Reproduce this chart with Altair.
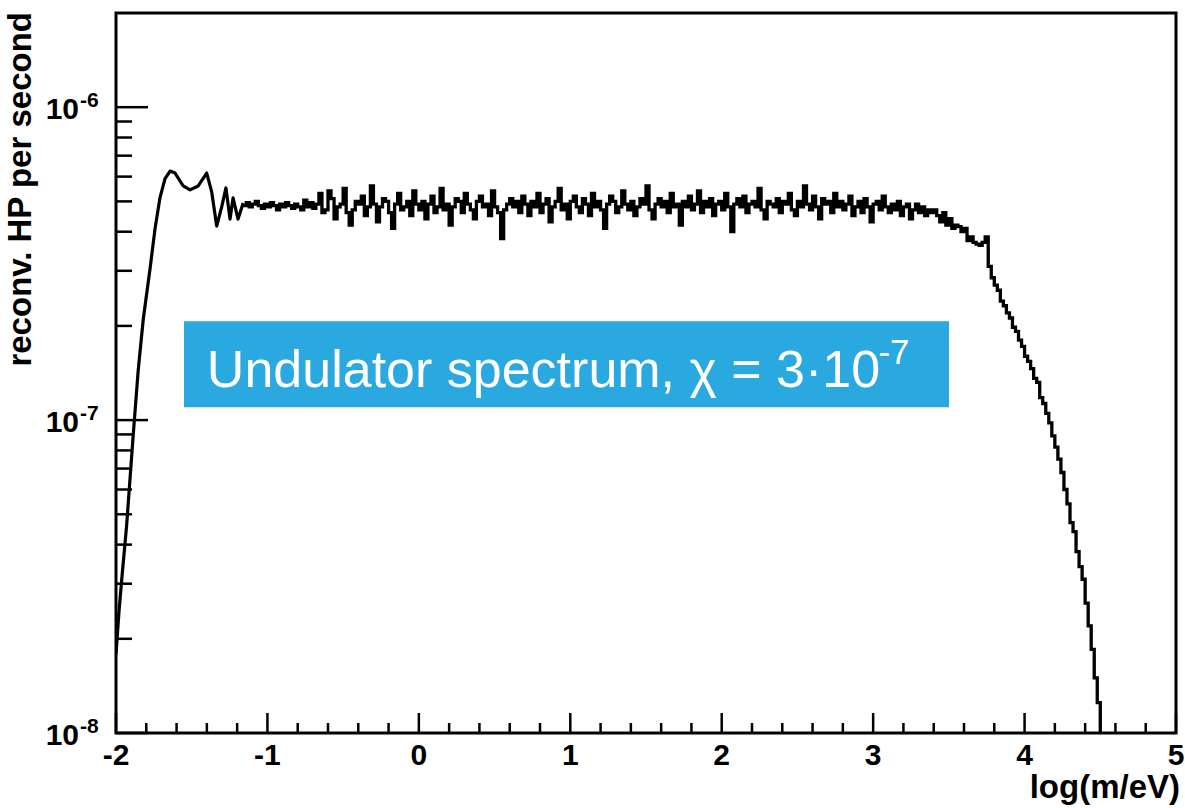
import altair as alt
import pandas as pd

# ---------------- data (rate in units of 1e-7 HP per second) ----------------
# smooth low-mass edge with the first oscillations, read point by point
smooth_log_m = [-2.0, -1.98, -1.962, -1.93, -1.886, -1.853, -1.82, -1.775, -1.742,
                -1.709, -1.676, -1.643, -1.61, -1.556, -1.511, -1.457, -1.401,
                -1.368, -1.335, -1.302, -1.274, -1.247, -1.227, -1.194, -1.16]
smooth_rate = [0.179, 0.245, 0.31, 0.46, 0.9, 1.45, 2.1, 3.05, 4.1,
               5.15, 5.91, 6.25, 6.16, 5.6, 5.44, 5.6, 6.16,
               5.36, 4.17, 4.8, 5.52, 4.39, 5.13, 4.39, 4.94]

# histogram part
BIN_START = -1.16     # log(m/eV) of first bin edge
BIN_WIDTH = 0.02      # bin width in log(m/eV)

# quiet part of the plateau (-1.16 ... -0.68)
quiet_values = [4.85, 4.95, 4.8, 4.9, 5.0, 4.85, 4.75, 4.9, 4.8, 4.95,
                4.85, 4.7, 4.9, 4.8, 4.95, 4.85, 4.75, 4.9, 4.8, 4.7,
                5.05, 4.8, 4.95, 4.75, 4.9]
# noisy plateau (-0.66 ... 3.38)
noisy_values = [5.3, 4.6, 4.7, 5.4, 5.1, 4.4, 4.8, 4.9, 5.5, 4.6,
                4.2, 4.7, 5.0, 4.9, 5.2, 4.5, 4.8, 5.6, 4.9, 4.3,
                4.8, 5.1, 5.0, 4.6, 4.1, 4.9, 5.3, 4.7, 4.8, 5.0,
                4.5, 5.4, 4.9, 4.7, 5.0, 4.4, 4.9, 5.2, 4.6, 4.8,
                5.5, 4.7, 4.9, 4.2, 4.8, 5.1, 5.0, 4.6, 5.3, 4.9,
                4.7, 4.4, 5.0, 5.2, 4.8, 4.9, 4.5, 5.4, 4.8, 4.6,
                3.8, 4.7, 4.9, 5.1, 4.8, 5.0, 4.6, 5.2, 4.9, 4.5,
                5.0, 4.8, 5.3, 4.6, 4.9, 5.1, 4.3, 4.8, 5.0, 5.5,
                4.7, 4.9, 4.4, 5.0, 5.2, 4.8, 4.6, 5.1, 4.9, 4.5,
                5.3, 4.8, 5.0, 4.7, 4.1, 4.9, 5.2, 5.0, 4.6, 4.8,
                5.4, 4.9, 4.7, 5.0, 4.5, 4.8, 5.1, 4.9, 5.6, 4.7,
                4.4, 4.9, 5.1, 4.8, 5.0, 4.6, 5.3, 4.8, 4.9, 4.2,
                5.0, 4.8, 5.2, 4.7, 4.9, 5.4, 4.6, 5.0, 4.8, 5.1,
                4.5, 4.9, 5.0, 4.7, 5.3, 4.8, 4.0, 4.9, 5.1, 4.8,
                5.2, 4.6, 4.9, 5.0, 4.8, 5.5, 4.7, 4.4, 5.0, 4.9,
                4.8, 5.1, 4.6, 5.0, 4.9, 5.3, 4.7, 4.5, 5.0, 4.8,
                5.6, 4.9, 4.7, 5.2, 4.8, 4.4, 5.1, 4.9, 5.0, 4.6,
                5.3, 4.8, 5.0, 4.7, 4.9, 5.2, 4.5, 4.8, 5.0, 4.6,
                5.1, 4.8, 4.3, 4.9, 5.0, 4.7, 5.2, 4.8, 4.6, 4.9,
                4.7, 5.0, 4.5, 4.8, 4.9, 4.4, 4.7, 4.9, 4.6, 4.8,
                4.5, 4.7, 4.6]
# fall-off (3.40 ... 4.48)
falloff_values = [4.7, 4.5, 4.3, 4.6, 4.2, 4.4, 4.1, 4.2, 4.15, 4.0,
                  4.1, 3.75, 3.85, 3.7, 3.65, 3.62, 3.7, 3.85, 3.1, 2.85,
                  2.7, 2.6, 2.4, 2.32, 2.2, 2.12, 1.98, 1.92, 1.8, 1.72,
                  1.6, 1.54, 1.46, 1.36, 1.32, 1.18, 1.13, 1.05, 0.98, 0.89,
                  0.82, 0.75, 0.68, 0.6, 0.54, 0.47, 0.44, 0.38, 0.34, 0.31,
                  0.26, 0.22, 0.185, 0.15, 0.125]
end_value = [0.05]    # below the plotted range: histogram drops out at 4.5

x_major = [-2, -1, 0, 1, 2, 3, 4, 5]
y_major = [1e-8, 1e-7, 1e-6]
y_major_exp = ["-8", "-7", "-6"]
y_minor_mult = [2, 3, 4, 5, 6, 7, 8, 9]

label_text = "Undulator spectrum, \u03c7 = 3\u00b710"
label_exp = "-7"

# ---------------- tables ----------------
smooth = pd.DataFrame({"log_m": smooth_log_m, "rate": [v * 1e-7 for v in smooth_rate]})
vals = quiet_values + noisy_values + falloff_values + end_value
hist = pd.DataFrame({
    "log_m": [round(BIN_START + BIN_WIDTH * i, 4) for i in range(len(vals))],
    "rate": [v * 1e-7 for v in vals],
})

x_minor = [round(a + b / 10, 2) for a in x_major[:-1] for b in (2, 4, 6, 8)]
y_minor = [m * d for d in (1e-8, 1e-7) for m in y_minor_mult]
ymaj = pd.DataFrame({"v": y_major, "base": ["10"] * 3, "exp": y_major_exp})
xmaj = pd.DataFrame({"v": x_major, "t": [str(v) for v in x_major]})

FONT = "Liberation Sans"
W, H = 1060, 720

xs = alt.Scale(domain=[-2, 5], nice=False, zero=False)
ys = alt.Scale(type="log", domain=[1e-8, 2e-6], nice=False)


def X(field):
    return alt.X(field, scale=xs, axis=None)


def Y(field):
    return alt.Y(field, scale=ys, axis=None)


smooth_line = alt.Chart(smooth).mark_line(
    color="black", strokeWidth=3.2, clip=True, strokeJoin="round"
).encode(x=X("log_m:Q"), y=Y("rate:Q"))

line = alt.Chart(hist).mark_line(
    interpolate="step-after", color="black", strokeWidth=3.3, clip=True
).encode(x=X("log_m:Q"), y=Y("rate:Q"))

box = alt.Chart(pd.DataFrame({"x": [-1.551], "x2": [3.501], "y": [1.10e-7], "y2": [2.07e-7]})).mark_rect(
    color="#2AA8E0"
).encode(x=X("x:Q"), x2="x2:Q", y=Y("y:Q"), y2="y2:Q")

box_text = alt.Chart(pd.DataFrame({"x": [-1.40], "y": [1.28e-7], "t": [label_text]})).mark_text(
    align="left", baseline="alphabetic", font=FONT, fontSize=52, color="white"
).encode(x=X("x:Q"), y=Y("y:Q"), text="t:N")

box_exp = alt.Chart(pd.DataFrame({"x": [3.035], "y": [1.85e-7], "t": [label_exp]})).mark_text(
    align="left", baseline="top", font=FONT, fontSize=35, color="white"
).encode(x=X("x:Q"), y=Y("y:Q"), text="t:N")

xt_major = alt.Chart(pd.DataFrame({"v": x_major})).mark_rule(color="black", strokeWidth=2.5).encode(
    x=X("v:Q"), y=alt.value(H), y2=alt.value(H - 20))
xt_minor = alt.Chart(pd.DataFrame({"v": x_minor})).mark_rule(color="black", strokeWidth=2.5).encode(
    x=X("v:Q"), y=alt.value(H), y2=alt.value(H - 10))
yt_major = alt.Chart(ymaj).mark_rule(color="black", strokeWidth=2.5).encode(
    y=Y("v:Q"), x=alt.value(0), x2=alt.value(32))
yt_minor = alt.Chart(pd.DataFrame({"v": y_minor})).mark_rule(color="black", strokeWidth=2.5).encode(
    y=Y("v:Q"), x=alt.value(0), x2=alt.value(16))

xlab = alt.Chart(xmaj).mark_text(
    align="center", baseline="alphabetic", font=FONT, fontSize=30, fontWeight="bold", color="black"
).encode(x=X("v:Q"), y=alt.value(752), text="t:N")

ylab_base = alt.Chart(ymaj).mark_text(
    align="right", baseline="middle", font=FONT, fontSize=30, fontWeight="bold", color="black", dy=3
).encode(y=Y("v:Q"), x=alt.value(-37), text="base:N")
ylab_exp = alt.Chart(ymaj).mark_text(
    align="left", baseline="middle", font=FONT, fontSize=21, fontWeight="bold", color="black", dy=-6
).encode(y=Y("v:Q"), x=alt.value(-36), text="exp:N")

ytitle = alt.Chart(pd.DataFrame({"t": ["reconv. HP per second"]})).mark_text(
    angle=270, align="right", baseline="alphabetic", font=FONT, fontSize=33, fontWeight="bold", color="black"
).encode(x=alt.value(-85), y=alt.value(-1), text="t:N")
xtitle = alt.Chart(pd.DataFrame({"t": ["log(m/eV)"]})).mark_text(
    align="right", baseline="alphabetic", font=FONT, fontSize=33, fontWeight="bold", color="black"
).encode(x=alt.value(1064), y=alt.value(785), text="t:N")

chart = alt.layer(
    box, box_text, box_exp, smooth_line, line, xt_major, xt_minor, yt_major, yt_minor,
    xlab, ylab_base, ylab_exp, ytitle, xtitle
).properties(
    width=W, height=H,
    padding={"left": 116, "top": 13, "right": 9, "bottom": 75},
    autosize=alt.AutoSizeParams(type="none"),
    background="white",
).configure_view(stroke="black", strokeWidth=3)

chart.save("out.html", embed_options={"renderer": "svg", "actions": False})
